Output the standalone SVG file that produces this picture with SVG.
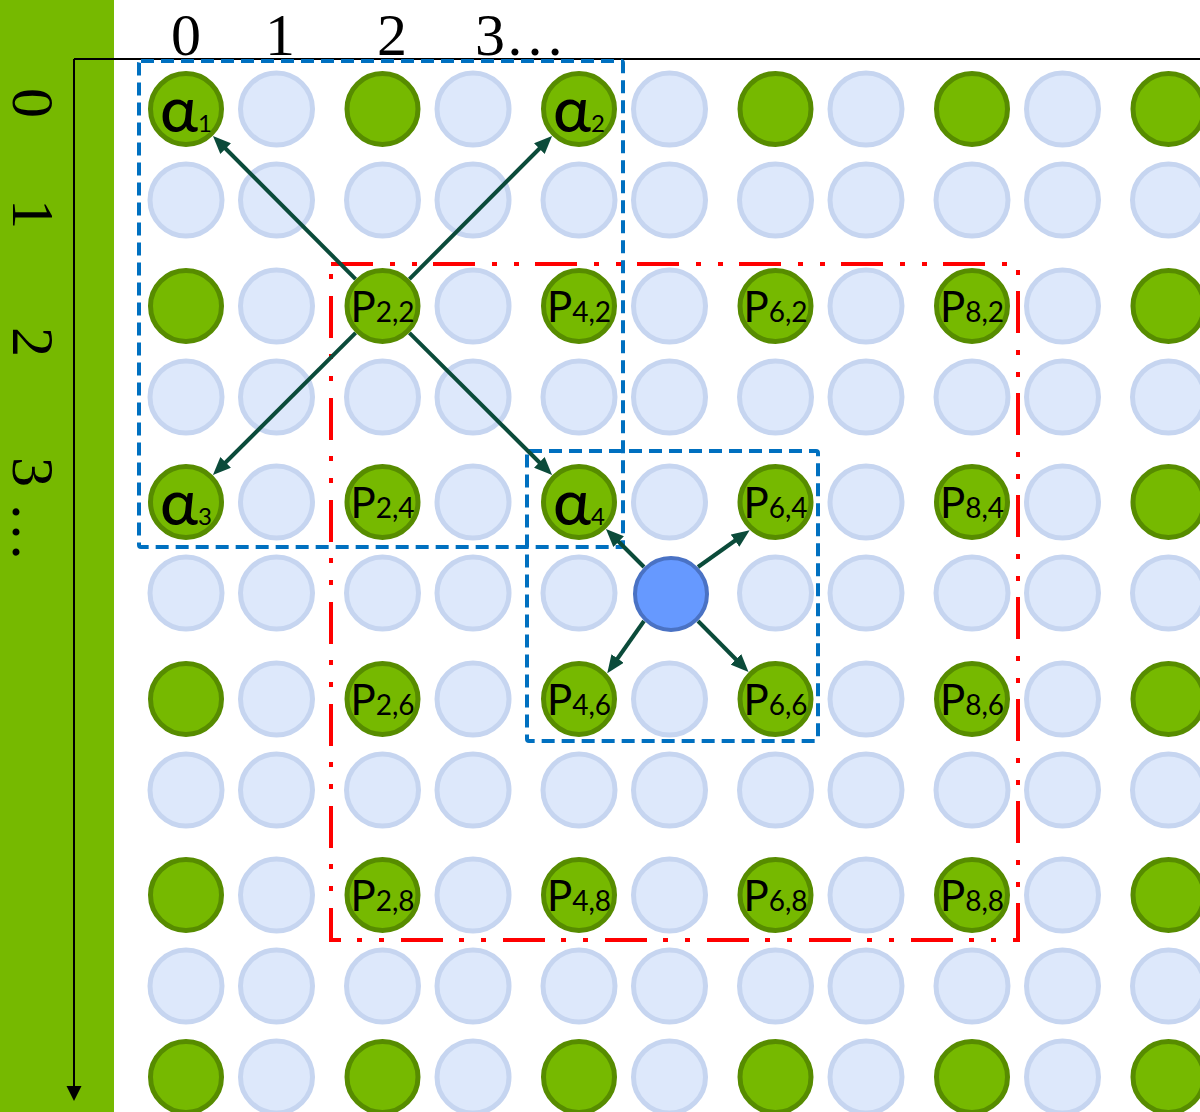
<svg xmlns="http://www.w3.org/2000/svg" width="1200" height="1112" viewBox="0 0 1200 1112">
<defs>
<style>
.g{fill:#76B900;stroke:#578C00;stroke-width:5}
.l{fill:#DDE8FB;stroke:#C6D5F0;stroke-width:5}
.b{fill:#6699FF;stroke:#4A72C4;stroke-width:4}
.ax{font-family:"Liberation Serif","Times New Roman",serif;font-size:60px;fill:#000}
.lb{font-family:Lato,"Open Sans","DejaVu Sans",sans-serif;fill:#000;text-anchor:middle}
.big{font-size:42px}
.sm{font-size:28px}
.abig{font-size:64px;font-weight:500}
.asm{font-size:24px}
.con{stroke:#0B4B3A;stroke-width:4;fill:none;marker-end:url(#ah)}
.bbox{fill:none;stroke:#0070C0;stroke-width:4;stroke-dasharray:13 7}
.rbox{fill:none;stroke:#FF0000;stroke-width:4;stroke-dasharray:42 17 5 17 5 16}
</style>
<marker id="ah" markerUnits="userSpaceOnUse" markerWidth="19" markerHeight="15" refX="8" refY="7.5" orient="auto">
<path d="M0,0 L18,7.5 L0,15 z" fill="#0B4B3A"/>
</marker>
</defs>
<rect width="1200" height="1112" fill="#fff"/>
<g id="sidebar">
<rect x="0" y="0" width="114" height="1112" fill="#76B900"/>
<text class="ax" text-anchor="middle" transform="translate(13,103) rotate(90)">0</text>
<text class="ax" text-anchor="middle" transform="translate(13,214) rotate(90)">1</text>
<text class="ax" text-anchor="middle" transform="translate(13,342) rotate(90)">2</text>
<text class="ax" transform="translate(13,457) rotate(90)">3 …</text>
</g>
<g id="axes">
<line x1="74" y1="59" x2="1200" y2="59" stroke="#000" stroke-width="2"/>
<line x1="74" y1="59" x2="74" y2="1090" stroke="#000" stroke-width="2"/>
<polygon points="66.5,1086 81.5,1086 74,1101" fill="#000"/>
<text class="ax" x="186" y="55" text-anchor="middle">0</text>
<text class="ax" x="280" y="55" text-anchor="middle">1</text>
<text class="ax" x="392" y="55" text-anchor="middle">2</text>
<text class="ax" x="475" y="55">3…</text>
</g>
<g id="light-grid">
<g id="l-0-1"><circle class="l" cx="276.5" cy="109" r="36"/></g>
<g id="l-0-3"><circle class="l" cx="473" cy="109" r="36"/></g>
<g id="l-0-5"><circle class="l" cx="669.5" cy="109" r="36"/></g>
<g id="l-0-7"><circle class="l" cx="866" cy="109" r="36"/></g>
<g id="l-0-9"><circle class="l" cx="1062.5" cy="109" r="36"/></g>
<g id="l-1-0"><circle class="l" cx="186" cy="200" r="36"/></g>
<g id="l-1-1"><circle class="l" cx="276.5" cy="200" r="36"/></g>
<g id="l-1-2"><circle class="l" cx="382.5" cy="200" r="36"/></g>
<g id="l-1-3"><circle class="l" cx="473" cy="200" r="36"/></g>
<g id="l-1-4"><circle class="l" cx="579" cy="200" r="36"/></g>
<g id="l-1-5"><circle class="l" cx="669.5" cy="200" r="36"/></g>
<g id="l-1-6"><circle class="l" cx="775.5" cy="200" r="36"/></g>
<g id="l-1-7"><circle class="l" cx="866" cy="200" r="36"/></g>
<g id="l-1-8"><circle class="l" cx="972" cy="200" r="36"/></g>
<g id="l-1-9"><circle class="l" cx="1062.5" cy="200" r="36"/></g>
<g id="l-1-10"><circle class="l" cx="1168.5" cy="200" r="36"/></g>
<g id="l-2-1"><circle class="l" cx="276.5" cy="306" r="36"/></g>
<g id="l-2-3"><circle class="l" cx="473" cy="306" r="36"/></g>
<g id="l-2-5"><circle class="l" cx="669.5" cy="306" r="36"/></g>
<g id="l-2-7"><circle class="l" cx="866" cy="306" r="36"/></g>
<g id="l-2-9"><circle class="l" cx="1062.5" cy="306" r="36"/></g>
<g id="l-3-0"><circle class="l" cx="186" cy="397" r="36"/></g>
<g id="l-3-1"><circle class="l" cx="276.5" cy="397" r="36"/></g>
<g id="l-3-2"><circle class="l" cx="382.5" cy="397" r="36"/></g>
<g id="l-3-3"><circle class="l" cx="473" cy="397" r="36"/></g>
<g id="l-3-4"><circle class="l" cx="579" cy="397" r="36"/></g>
<g id="l-3-5"><circle class="l" cx="669.5" cy="397" r="36"/></g>
<g id="l-3-6"><circle class="l" cx="775.5" cy="397" r="36"/></g>
<g id="l-3-7"><circle class="l" cx="866" cy="397" r="36"/></g>
<g id="l-3-8"><circle class="l" cx="972" cy="397" r="36"/></g>
<g id="l-3-9"><circle class="l" cx="1062.5" cy="397" r="36"/></g>
<g id="l-3-10"><circle class="l" cx="1168.5" cy="397" r="36"/></g>
<g id="l-4-1"><circle class="l" cx="276.5" cy="502" r="36"/></g>
<g id="l-4-3"><circle class="l" cx="473" cy="502" r="36"/></g>
<g id="l-4-5"><circle class="l" cx="669.5" cy="502" r="36"/></g>
<g id="l-4-7"><circle class="l" cx="866" cy="502" r="36"/></g>
<g id="l-4-9"><circle class="l" cx="1062.5" cy="502" r="36"/></g>
<g id="l-5-0"><circle class="l" cx="186" cy="593" r="36"/></g>
<g id="l-5-1"><circle class="l" cx="276.5" cy="593" r="36"/></g>
<g id="l-5-2"><circle class="l" cx="382.5" cy="593" r="36"/></g>
<g id="l-5-3"><circle class="l" cx="473" cy="593" r="36"/></g>
<g id="l-5-4"><circle class="l" cx="579" cy="593" r="36"/></g>
<g id="l-5-6"><circle class="l" cx="775.5" cy="593" r="36"/></g>
<g id="l-5-7"><circle class="l" cx="866" cy="593" r="36"/></g>
<g id="l-5-8"><circle class="l" cx="972" cy="593" r="36"/></g>
<g id="l-5-9"><circle class="l" cx="1062.5" cy="593" r="36"/></g>
<g id="l-5-10"><circle class="l" cx="1168.5" cy="593" r="36"/></g>
<g id="l-6-1"><circle class="l" cx="276.5" cy="699" r="36"/></g>
<g id="l-6-3"><circle class="l" cx="473" cy="699" r="36"/></g>
<g id="l-6-5"><circle class="l" cx="669.5" cy="699" r="36"/></g>
<g id="l-6-7"><circle class="l" cx="866" cy="699" r="36"/></g>
<g id="l-6-9"><circle class="l" cx="1062.5" cy="699" r="36"/></g>
<g id="l-7-0"><circle class="l" cx="186" cy="790" r="36"/></g>
<g id="l-7-1"><circle class="l" cx="276.5" cy="790" r="36"/></g>
<g id="l-7-2"><circle class="l" cx="382.5" cy="790" r="36"/></g>
<g id="l-7-3"><circle class="l" cx="473" cy="790" r="36"/></g>
<g id="l-7-4"><circle class="l" cx="579" cy="790" r="36"/></g>
<g id="l-7-5"><circle class="l" cx="669.5" cy="790" r="36"/></g>
<g id="l-7-6"><circle class="l" cx="775.5" cy="790" r="36"/></g>
<g id="l-7-7"><circle class="l" cx="866" cy="790" r="36"/></g>
<g id="l-7-8"><circle class="l" cx="972" cy="790" r="36"/></g>
<g id="l-7-9"><circle class="l" cx="1062.5" cy="790" r="36"/></g>
<g id="l-7-10"><circle class="l" cx="1168.5" cy="790" r="36"/></g>
<g id="l-8-1"><circle class="l" cx="276.5" cy="895" r="36"/></g>
<g id="l-8-3"><circle class="l" cx="473" cy="895" r="36"/></g>
<g id="l-8-5"><circle class="l" cx="669.5" cy="895" r="36"/></g>
<g id="l-8-7"><circle class="l" cx="866" cy="895" r="36"/></g>
<g id="l-8-9"><circle class="l" cx="1062.5" cy="895" r="36"/></g>
<g id="l-9-0"><circle class="l" cx="186" cy="986" r="36"/></g>
<g id="l-9-1"><circle class="l" cx="276.5" cy="986" r="36"/></g>
<g id="l-9-2"><circle class="l" cx="382.5" cy="986" r="36"/></g>
<g id="l-9-3"><circle class="l" cx="473" cy="986" r="36"/></g>
<g id="l-9-4"><circle class="l" cx="579" cy="986" r="36"/></g>
<g id="l-9-5"><circle class="l" cx="669.5" cy="986" r="36"/></g>
<g id="l-9-6"><circle class="l" cx="775.5" cy="986" r="36"/></g>
<g id="l-9-7"><circle class="l" cx="866" cy="986" r="36"/></g>
<g id="l-9-8"><circle class="l" cx="972" cy="986" r="36"/></g>
<g id="l-9-9"><circle class="l" cx="1062.5" cy="986" r="36"/></g>
<g id="l-9-10"><circle class="l" cx="1168.5" cy="986" r="36"/></g>
<g id="l-10-1"><circle class="l" cx="276.5" cy="1077" r="36"/></g>
<g id="l-10-3"><circle class="l" cx="473" cy="1077" r="36"/></g>
<g id="l-10-5"><circle class="l" cx="669.5" cy="1077" r="36"/></g>
<g id="l-10-7"><circle class="l" cx="866" cy="1077" r="36"/></g>
<g id="l-10-9"><circle class="l" cx="1062.5" cy="1077" r="36"/></g>
</g>
<g id="regions">
<rect class="rbox" x="331" y="264" width="687" height="676"/>
<rect class="bbox" x="139" y="61" width="484" height="486" rx="2"/>
<rect class="bbox" x="527" y="451" width="291" height="290" rx="2"/>
</g>
<g id="connectors">
<line class="con" x1="355.6" y1="279.1" x2="220" y2="143"/>
<line class="con" x1="409.4" y1="279.1" x2="545" y2="143"/>
<line class="con" x1="355.6" y1="332.9" x2="220" y2="468"/>
<line class="con" x1="409.4" y1="332.9" x2="545" y2="468"/>
<line class="con" x1="644" y1="567" x2="613" y2="536"/>
<line class="con" x1="698" y1="567" x2="741.5" y2="536"/>
<line class="con" x1="644" y1="621" x2="613" y2="665"/>
<line class="con" x1="698" y1="621" x2="741.5" y2="665"/>
</g>
<g id="green-grid">
<g id="alpha1"><circle class="g" cx="186" cy="109" r="35.5"/><text class="lb" x="186" y="132"><tspan class="abig">α</tspan><tspan class="asm">1</tspan></text></g>
<g id="g-0-2"><circle class="g" cx="382.5" cy="109" r="35.5"/></g>
<g id="alpha2"><circle class="g" cx="579" cy="109" r="35.5"/><text class="lb" x="579" y="132"><tspan class="abig">α</tspan><tspan class="asm">2</tspan></text></g>
<g id="g-0-6"><circle class="g" cx="775.5" cy="109" r="35.5"/></g>
<g id="g-0-8"><circle class="g" cx="972" cy="109" r="35.5"/></g>
<g id="g-0-10"><circle class="g" cx="1168.5" cy="109" r="35.5"/></g>

<g id="g-2-0"><circle class="g" cx="186" cy="306" r="35.5"/></g>
<g id="P22"><circle class="g" cx="382.5" cy="306" r="35.5"/><text class="lb" x="382.5" y="322"><tspan class="big">P</tspan><tspan class="sm">2,2</tspan></text></g>
<g id="P42"><circle class="g" cx="579" cy="306" r="35.5"/><text class="lb" x="579" y="322"><tspan class="big">P</tspan><tspan class="sm">4,2</tspan></text></g>
<g id="P62"><circle class="g" cx="775.5" cy="306" r="35.5"/><text class="lb" x="775.5" y="322"><tspan class="big">P</tspan><tspan class="sm">6,2</tspan></text></g>
<g id="P82"><circle class="g" cx="972" cy="306" r="35.5"/><text class="lb" x="972" y="322"><tspan class="big">P</tspan><tspan class="sm">8,2</tspan></text></g>
<g id="g-2-10"><circle class="g" cx="1168.5" cy="306" r="35.5"/></g>

<g id="alpha3"><circle class="g" cx="186" cy="502" r="35.5"/><text class="lb" x="186" y="525"><tspan class="abig">α</tspan><tspan class="asm">3</tspan></text></g>
<g id="P24"><circle class="g" cx="382.5" cy="502" r="35.5"/><text class="lb" x="382.5" y="518"><tspan class="big">P</tspan><tspan class="sm">2,4</tspan></text></g>
<g id="alpha4"><circle class="g" cx="579" cy="502" r="35.5"/><text class="lb" x="579" y="525"><tspan class="abig">α</tspan><tspan class="asm">4</tspan></text></g>
<g id="P64"><circle class="g" cx="775.5" cy="502" r="35.5"/><text class="lb" x="775.5" y="518"><tspan class="big">P</tspan><tspan class="sm">6,4</tspan></text></g>
<g id="P84"><circle class="g" cx="972" cy="502" r="35.5"/><text class="lb" x="972" y="518"><tspan class="big">P</tspan><tspan class="sm">8,4</tspan></text></g>
<g id="g-4-10"><circle class="g" cx="1168.5" cy="502" r="35.5"/></g>

<g id="g-6-0"><circle class="g" cx="186" cy="699" r="35.5"/></g>
<g id="P26"><circle class="g" cx="382.5" cy="699" r="35.5"/><text class="lb" x="382.5" y="715"><tspan class="big">P</tspan><tspan class="sm">2,6</tspan></text></g>
<g id="P46"><circle class="g" cx="579" cy="699" r="35.5"/><text class="lb" x="579" y="715"><tspan class="big">P</tspan><tspan class="sm">4,6</tspan></text></g>
<g id="P66"><circle class="g" cx="775.5" cy="699" r="35.5"/><text class="lb" x="775.5" y="715"><tspan class="big">P</tspan><tspan class="sm">6,6</tspan></text></g>
<g id="P86"><circle class="g" cx="972" cy="699" r="35.5"/><text class="lb" x="972" y="715"><tspan class="big">P</tspan><tspan class="sm">8,6</tspan></text></g>
<g id="g-6-10"><circle class="g" cx="1168.5" cy="699" r="35.5"/></g>

<g id="g-8-0"><circle class="g" cx="186" cy="895" r="35.5"/></g>
<g id="P28"><circle class="g" cx="382.5" cy="895" r="35.5"/><text class="lb" x="382.5" y="911"><tspan class="big">P</tspan><tspan class="sm">2,8</tspan></text></g>
<g id="P48"><circle class="g" cx="579" cy="895" r="35.5"/><text class="lb" x="579" y="911"><tspan class="big">P</tspan><tspan class="sm">4,8</tspan></text></g>
<g id="P68"><circle class="g" cx="775.5" cy="895" r="35.5"/><text class="lb" x="775.5" y="911"><tspan class="big">P</tspan><tspan class="sm">6,8</tspan></text></g>
<g id="P88"><circle class="g" cx="972" cy="895" r="35.5"/><text class="lb" x="972" y="911"><tspan class="big">P</tspan><tspan class="sm">8,8</tspan></text></g>
<g id="g-8-10"><circle class="g" cx="1168.5" cy="895" r="35.5"/></g>

<g id="g-10-0"><circle class="g" cx="186" cy="1077" r="35.5"/></g>
<g id="g-10-2"><circle class="g" cx="382.5" cy="1077" r="35.5"/></g>
<g id="g-10-4"><circle class="g" cx="579" cy="1077" r="35.5"/></g>
<g id="g-10-6"><circle class="g" cx="775.5" cy="1077" r="35.5"/></g>
<g id="g-10-8"><circle class="g" cx="972" cy="1077" r="35.5"/></g>
<g id="g-10-10"><circle class="g" cx="1168.5" cy="1077" r="35.5"/></g>
</g>
<g id="target"><circle class="b" cx="671" cy="594" r="36"/></g>
</svg>
